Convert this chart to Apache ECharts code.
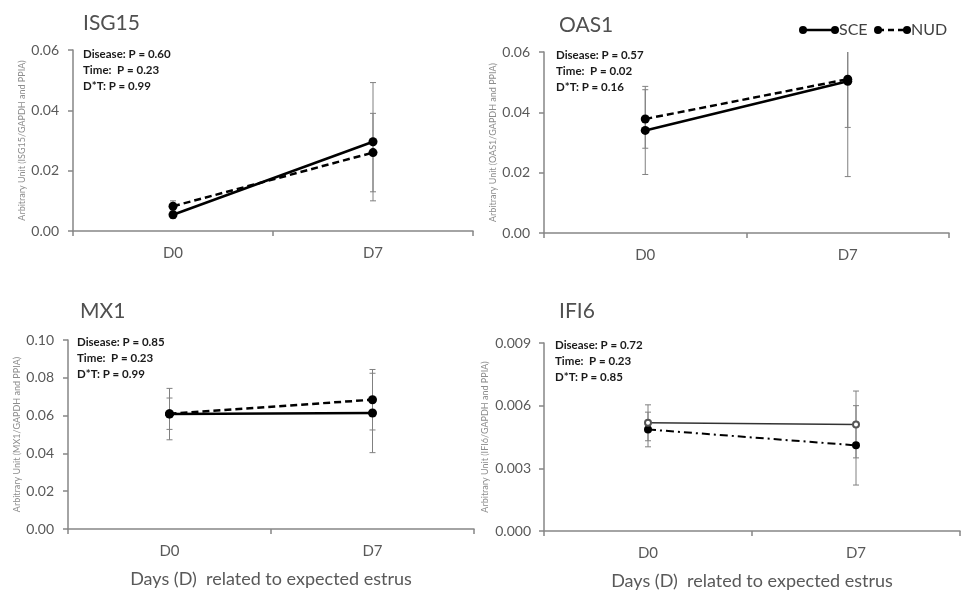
<!DOCTYPE html>
<html><head><meta charset="utf-8">
<script src="https://cdn.jsdelivr.net/npm/echarts@6/dist/echarts.min.js"></script>
<style>html,body{margin:0;padding:0;background:#fff}#c{width:962px;height:592px}</style>
</head><body><div id="c"></div>
<script>
const categories = ['D0', 'D7'];
const seriesNames = ['SCE', 'NUD'];
const genes = ['ISG15', 'OAS1', 'MX1', 'IFI6'];

const isg15_SCE = [0.0054, 0.0296];
const isg15_SCE_err = [0.0012, 0.0196];
const isg15_NUD = [0.0082, 0.0260];
const isg15_NUD_err = [0.0018, 0.0130];

const oas1_SCE = [0.0340, 0.0503];
const oas1_SCE_err = [0.0146, 0.0316];
const oas1_NUD = [0.0378, 0.0510];
const oas1_NUD_err = [0.0097, 0.0160];

const mx1_SCE = [0.0608, 0.0614];
const mx1_SCE_err = [0.0136, 0.0210];
const mx1_NUD = [0.0610, 0.0684];
const mx1_NUD_err = [0.0083, 0.0160];

const ifi6_SCE = [0.00518, 0.0051];
const ifi6_SCE_err = [0.00086, 0.0016];
const ifi6_NUD = [0.00486, 0.0041];
const ifi6_NUD_err = [0.00083, 0.0019];

const yMax = [0.06, 0.06, 0.10, 0.009];
const yInterval = [0.02, 0.02, 0.02, 0.003];
const yDecimals = [2, 2, 2, 3];

const pText = [
  'Disease: P = 0.60\nTime:  P = 0.23\nD*T: P = 0.99',
  'Disease: P = 0.57\nTime:  P = 0.02\nD*T: P = 0.16',
  'Disease: P = 0.85\nTime:  P = 0.23\nD*T: P = 0.99',
  'Disease: P = 0.72\nTime:  P = 0.23\nD*T: P = 0.85'
];
const xAxisName = 'Days (D)  related to expected estrus';

const sceData = [isg15_SCE, oas1_SCE, mx1_SCE, ifi6_SCE];
const sceErr = [isg15_SCE_err, oas1_SCE_err, mx1_SCE_err, ifi6_SCE_err];
const nudData = [isg15_NUD, oas1_NUD, mx1_NUD, ifi6_NUD];
const nudErr = [isg15_NUD_err, oas1_NUD_err, mx1_NUD_err, ifi6_NUD_err];

const FONT = 'Lato';
const AX = '#868686';
const TXT = '#595959';

const grids = [
  {left: 73, right: 489, top: 50, height: 181},
  {left: 544, right: 13, top: 52, height: 181},
  {left: 68, right: 488, top: 340, height: 189},
  {left: 544, right: 2, top: 343, height: 188}
];
const nameGaps = [46, 46, 46, 54];
const labelMargins = [14, 14, 14, 13];
const titlePos = [[78, 8], [554, 10], [75, 296], [554, 296]];
const pPos = [[78, 41], [551, 42], [72, 329], [550, 332]];

const chart = echarts.init(document.getElementById('c'));

function errRender() {
  return function (params, api) {
    const idx = api.value(0), v = api.value(1), e = api.value(2);
    const cs = params.coordSys;
    const top = api.coord([idx, v + e]);
    const bot = api.coord([idx, v - e]);
    const x = top[0];
    let yTop = top[1];
    const yBot = bot[1];
    const children = [];
    const style = {stroke: '#808080', lineWidth: 1};
    let capTop = true;
    if (yTop < cs.y) { yTop = cs.y; capTop = false; }
    children.push({type: 'line', shape: {x1: x, y1: yTop, x2: x, y2: yBot}, style});
    if (capTop) children.push({type: 'line', shape: {x1: x - 3, y1: yTop, x2: x + 3, y2: yTop}, style});
    children.push({type: 'line', shape: {x1: x - 3, y1: yBot, x2: x + 3, y2: yBot}, style});
    return {type: 'group', children};
  };
}

const option = {
  animation: false,
  backgroundColor: '#fff',
  title: [],
  grid: grids,
  xAxis: [],
  yAxis: [],
  series: [],
  graphic: []
};

for (let g = 0; g < 4; g++) {
  option.title.push({
    text: genes[g], left: titlePos[g][0], top: titlePos[g][1],
    textStyle: {fontFamily: FONT, fontSize: 21, fontWeight: 'normal', color: '#505050'}
  });
  option.title.push({
    text: pText[g], left: pPos[g][0], top: pPos[g][1],
    textStyle: {fontFamily: FONT, fontSize: 11.5, fontWeight: 'bold', color: '#1a1a1a', lineHeight: 16}
  });
  option.xAxis.push({
    type: 'category', gridIndex: g, data: categories, boundaryGap: true,
    name: g >= 2 ? xAxisName : '', nameLocation: 'middle', nameGap: 41,
    nameTextStyle: {fontFamily: FONT, fontSize: 18, color: TXT},
    axisLine: {lineStyle: {color: AX, width: 1.5}},
    axisTick: {show: true, length: 5, lineStyle: {color: AX, width: 1.5}},
    axisLabel: {fontFamily: FONT, fontSize: 15, color: TXT, margin: 15},
    splitLine: {show: false}
  });
  const dec = yDecimals[g];
  option.yAxis.push({
    type: 'value', gridIndex: g, min: 0, max: yMax[g], interval: yInterval[g],
    name: 'Arbitrary Unit (' + genes[g] + '/GAPDH and PPIA)',
    nameLocation: 'middle', nameGap: nameGaps[g], nameRotate: 90,
    nameTextStyle: {fontFamily: FONT, fontSize: 9, color: '#8c8c8c'},
    axisLine: {show: true, lineStyle: {color: AX, width: 1.5}},
    axisTick: {show: true, length: 5, lineStyle: {color: AX, width: 1.5}},
    axisLabel: {fontFamily: FONT, fontSize: 14, color: TXT, margin: labelMargins[g],
      formatter: v => v.toFixed(dec)},
    splitLine: {show: false}
  });
  const isIfi = g === 3;
  [[sceData, sceErr, 'SCE'], [nudData, nudErr, 'NUD']].forEach(([d, e, nm]) => {
    option.series.push({
      type: 'custom', xAxisIndex: g, yAxisIndex: g, z: 1, silent: true,
      name: nm + ' err',
      renderItem: errRender(),
      encode: {x: 0, y: 1},
      data: categories.map((c, i) => [i, d[g][i], e[g][i]])
    });
  });
  option.series.push({
    type: 'line', name: 'NUD', xAxisIndex: g, yAxisIndex: g, z: 3,
    data: nudData[g],
    symbol: 'circle',
    symbolSize: isIfi ? 8 : 9,
    lineStyle: {color: '#000', width: isIfi ? 2 : 2.5, type: isIfi ? [8, 4, 2, 4] : [7, 4]},
    itemStyle: {color: '#000'}
  });
  option.series.push({
    type: 'line', name: 'SCE', xAxisIndex: g, yAxisIndex: g, z: 4,
    data: sceData[g],
    symbol: isIfi ? 'emptyCircle' : 'circle',
    symbolSize: isIfi ? 6 : 9,
    lineStyle: {color: isIfi ? '#333' : '#000', width: isIfi ? 1.6 : 2.5, type: 'solid'},
    itemStyle: isIfi ? {color: '#555', borderColor: '#555', borderWidth: 1} : {color: '#000'}
  });
}

const lg = [];
lg.push({type: 'line', shape: {x1: 803, y1: 30, x2: 835, y2: 30}, style: {stroke: '#000', lineWidth: 2.5}});
lg.push({type: 'circle', shape: {cx: 803, cy: 30, r: 4}, style: {fill: '#000'}});
lg.push({type: 'circle', shape: {cx: 835, cy: 30, r: 4}, style: {fill: '#000'}});
lg.push({type: 'text', x: 839, y: 30, style: {text: seriesNames[0], fontFamily: FONT, fontSize: 16, fill: '#404040', verticalAlign: 'middle'}});
lg.push({type: 'line', shape: {x1: 878, y1: 30, x2: 907, y2: 30}, style: {stroke: '#000', lineWidth: 2.5, lineDash: [6, 4]}});
lg.push({type: 'circle', shape: {cx: 878, cy: 30, r: 4}, style: {fill: '#000'}});
lg.push({type: 'circle', shape: {cx: 907, cy: 30, r: 4}, style: {fill: '#000'}});
lg.push({type: 'text', x: 911, y: 30, style: {text: seriesNames[1], fontFamily: FONT, fontSize: 16, fill: '#404040', verticalAlign: 'middle'}});
option.graphic = lg;

chart.setOption(option);
</script>
</body></html>
